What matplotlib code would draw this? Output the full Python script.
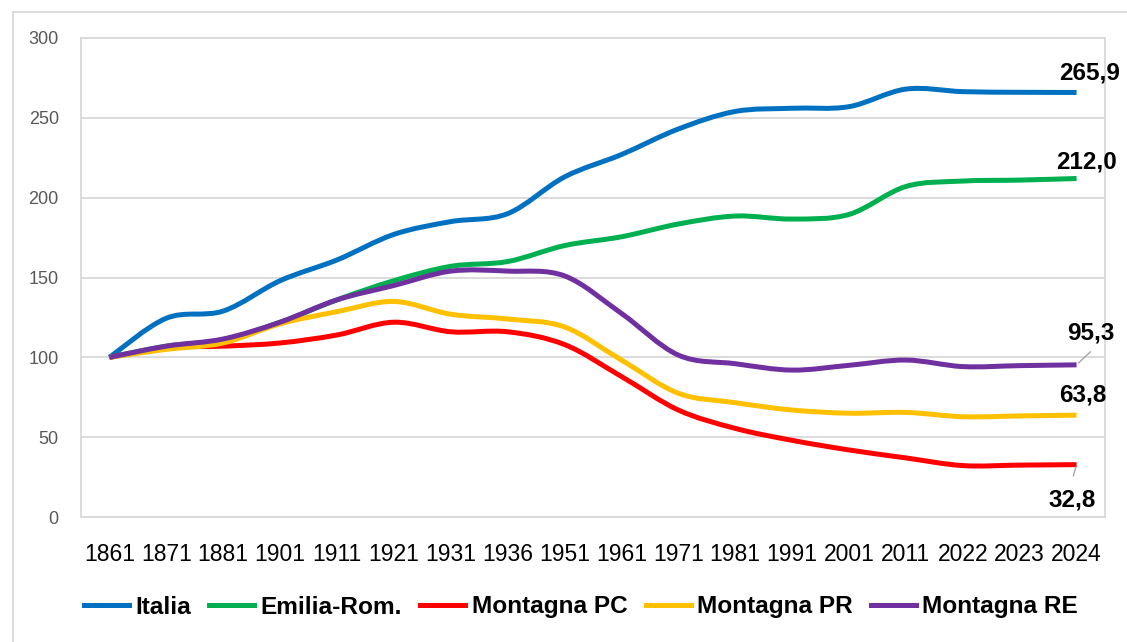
# population index (1861 = 100) - Italia, Emilia-Romagna and mountain areas
import numpy as np
import matplotlib
matplotlib.use('Agg')
import matplotlib.pyplot as plt
from matplotlib.path import Path
from matplotlib.patches import PathPatch
from matplotlib.lines import Line2D

plt.rcParams['font.family'] = ['Liberation Sans', 'DejaVu Sans']

# data
years = ['1861', '1871', '1881', '1901', '1911', '1921', '1931', '1936', '1951',
         '1961', '1971', '1981', '1991', '2001', '2011', '2022', '2023', '2024']
italia = [100, 124.5, 129, 148, 161, 177, 185, 190, 213, 227, 243, 254, 256, 257, 268, 266.4, 266, 265.9]
emilia = [100, 107, 111, 122, 136, 148, 157, 160, 170, 175.5, 183.5, 188.5, 186.6, 189.5, 207, 210.4, 211, 212.0]
mont_pc = [100, 106, 107, 109, 114, 122, 116, 116, 108, 88, 67, 55.5, 48, 42, 37, 32.2, 32.5, 32.8]
mont_pr = [100, 105, 109, 121, 128.6, 135, 127, 124, 119, 98.3, 77.5, 71.6, 67, 65, 65.5, 62.8, 63.3, 63.8]
mont_re = [100, 107, 111.5, 122, 136, 145, 154, 154, 151, 127.5, 101.4, 96, 92, 95, 98.3, 94.2, 94.8, 95.3]

names = ['Italia', 'Emilia-Rom.', 'Montagna PC', 'Montagna PR', 'Montagna RE']
series = [italia, emilia, mont_pc, mont_pr, mont_re]
colors = ['#0070C0', '#00B050', '#FF0000', '#FFC000', '#7030A0']
end_labels = ['265,9', '212,0', '32,8', '63,8', '95,3']
# label offsets in pixels from last point
offsets = [(13, 19), (10, 16.5), (-4, -35), (6, 20), (14, 32)]


def smooth_path(xs, ys):
    # cubic bezier through the points, excel style smoothing
    pts = np.column_stack([xs, ys]).astype(float)
    n = len(pts)
    verts = [pts[0]]
    codes = [Path.MOVETO]
    for i in range(n - 1):
        p0 = pts[max(i - 1, 0)]
        p1 = pts[i]
        p2 = pts[i + 1]
        p3 = pts[min(i + 2, n - 1)]
        c1 = p1 + (p2 - p0) / 6.0
        c2 = p2 - (p3 - p1) / 6.0
        verts += [c1, c2, p2]
        codes += [Path.CURVE4] * 3
    return Path(verts, codes)


fig = plt.figure(figsize=(11.27, 6.42), dpi=100)
ax = fig.add_axes([81 / 1127, 125 / 642, 1024 / 1127, 479 / 642])

x = np.arange(len(years))
for vals, col in zip(series, colors):
    patch = PathPatch(smooth_path(x, vals), fill=False, edgecolor=col, lw=3.6,
                      capstyle='butt', joinstyle='round', zorder=3)
    ax.add_patch(patch)

ax.set_xlim(-0.5, len(years) - 0.5)
ax.set_ylim(0, 300)
ax.set_yticks(np.arange(0, 301, 50))
ax.set_xticks(x)
ax.set_xticklabels(years)
ax.tick_params(axis='x', length=0, pad=19, labelsize=16.5, labelcolor='black')
ax.tick_params(axis='y', length=0, pad=16, labelsize=13, labelcolor='#595959')
ax.grid(axis='y', color='#d9d9d9', lw=1.3)
ax.set_axisbelow(True)
for sp in ax.spines.values():
    sp.set_color('#d9d9d9')
    sp.set_linewidth(1.3)

# end-of-line value labels
for vals, lab, off in zip(series, end_labels, offsets):
    ax.annotate(lab, xy=(x[-1], vals[-1]), xytext=off, textcoords='offset pixels',
                ha='center', va='center', fontsize=17.5, fontweight='bold', color='black')

# leader lines for the two labels sitting away from the line
ax.annotate('', xy=(x[-1], mont_re[-1]), xytext=(16, 15), textcoords='offset pixels',
            arrowprops=dict(arrowstyle='-', color='#a6a6a6', lw=1))
ax.annotate('', xy=(x[-1], mont_pc[-1]), xytext=(-4, -14), textcoords='offset pixels',
            arrowprops=dict(arrowstyle='-', color='#a6a6a6', lw=1))

# legend
handles = [Line2D([0], [0], color=c, lw=3.6) for c in colors]
fig.legend(handles, names, loc='center', bbox_to_anchor=(581 / 1127, 35 / 642), ncol=5,
           frameon=False, prop={'weight': 'bold', 'size': 17.6}, handlelength=1.85,
           handletextpad=0.25, columnspacing=0.75)

# chart border (left and top visible)
fig.add_artist(Line2D([13 / 1127, 13 / 1127], [0, 1 - 12 / 642], color='#d9d9d9', lw=1.3))
fig.add_artist(Line2D([13 / 1127, 1], [1 - 12 / 642, 1 - 12 / 642], color='#d9d9d9', lw=1.3))

fig.savefig('out.png', dpi=100)
